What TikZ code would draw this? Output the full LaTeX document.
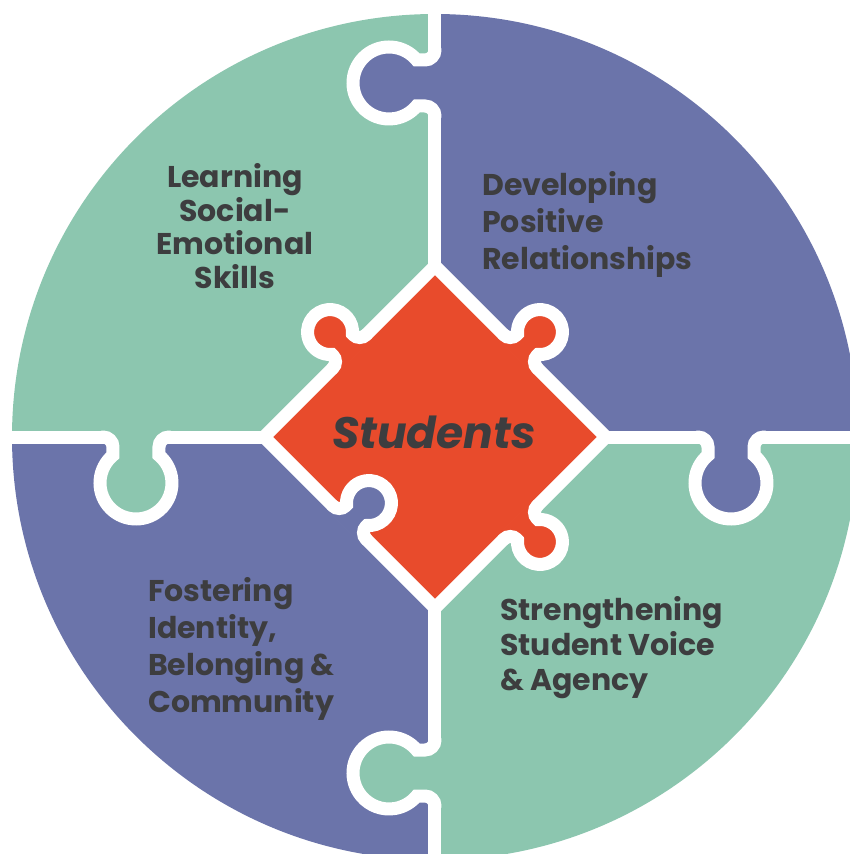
\documentclass[tikz,border=0pt]{standalone}
\usepackage{fontspec}
\setmainfont{Poppins}
\begin{document}
\begin{tikzpicture}[x=1pt,y=1pt]
%Define all colors here.
\definecolor{tgreen}{RGB}{140,198,175}
\definecolor{tpurple}{RGB}{107,116,170}
\definecolor{tred}{RGB}{232,75,44}
\definecolor{ttext}{RGB}{61,61,63}
\tikzset{
  seam/.style={draw=white, line width=13pt, line cap=round},
  areatext/.style={text=ttext, inner sep=0pt, font=\bfseries\fontsize{30}{37}\selectfont},
  % puzzle tab: colour, knob distance, knob radius, neck half-width, fillet
  pics/tab/.style n args={5}{code={
    \pgfmathsetmacro\tabn{sqrt((#3)*(#3)-(#4)*(#4))}
    \pgfmathsetmacro\tabx{\tabn-#2}
    \pgfmathsetmacro\taba{atan2(#4,\tabn)}
    \pgfmathsetmacro\tabt{#4+#5}
    \pgfmathsetmacro\tabc{#4+0.45*#5}
    \pgfmathsetmacro\tabd{-0.45*#5}
    \fill[#1] (7,\tabt) -- (0,\tabt) .. controls (0,\tabc) and (\tabd,#4) .. (-#5,#4) -- (\tabx,#4)
      arc[start angle=\taba, end angle={360-\taba}, radius=#3]
      -- (-#5,-#4) .. controls (\tabd,-#4) and (0,-\tabc) .. (0,-\tabt) -- (7,-\tabt) -- cycle;
    \draw[seam] (0,\tabt) .. controls (0,\tabc) and (\tabd,#4) .. (-#5,#4) -- (\tabx,#4)
      arc[start angle=\taba, end angle={360-\taba}, radius=#3]
      -- (-#5,-#4) .. controls (\tabd,-#4) and (0,-\tabc) .. (0,-\tabt);
  }}
}
\useasboundingbox (-435,-417) rectangle (414,437);

%Quarters of the disc.
\fill[tgreen] (0,0) -- (0,423) arc[start angle=90, end angle=180, radius=423] -- cycle;
\fill[tpurple] (0,0) -- (423,0) arc[start angle=0, end angle=90, radius=423] -- cycle;
\fill[tpurple] (0,0) -- (-423,0) arc[start angle=180, end angle=270, radius=423] -- cycle;
\fill[tgreen] (0,0) -- (0,-423) arc[start angle=270, end angle=360, radius=423] -- cycle;

\draw[seam] (0,430) -- (0,-430);
\draw[seam] (-430,0) -- (430,0);

\pic at (0,354) {tab={tpurple}{46}{36}{23}{10}};
\pic at (0,-336) {tab={tgreen}{46}{36}{23}{10}};
\pic[rotate=90] at (296,0) {tab={tpurple}{46}{36}{23}{10}};
\pic[rotate=90] at (-299,0) {tab={tgreen}{46}{36}{23}{10}};

%Centre piece.
\fill[tred] (0,171) -- (171,0) -- (0,-171) -- (-171,0) -- cycle;
\draw[seam] (0,171) -- (171,0) -- (0,-171) -- (-171,0) -- cycle;
\pic[rotate=-45] at (-85.5,85.5) {tab={tred}{27.5}{22.5}{14.5}{9}};
\pic[rotate=-135] at (85.5,85.5) {tab={tred}{27.5}{22.5}{14.5}{9}};
\pic[rotate=135] at (85.5,-85.5) {tab={tred}{27.5}{22.5}{14.5}{9}};
\pic[rotate=-135] at (-85.5,-85.5) {tab={tpurple}{27.5}{22.5}{14.5}{9}};

\node[text=ttext, font=\bfseries\itshape\fontsize{44}{50}\selectfont] (students) at (-1,5) {Students};

\node[areatext, align=center, font=\bfseries\fontsize{30}{33.5}\selectfont] (sel) at (-200,211) {Learning\\Social-\\Emotional\\Skills};
\node[areatext, align=left, anchor=west] (rel) at (47,213) {Developing\\Positive\\Relationships};
\node[areatext, align=left, anchor=west] (ident) at (-287,-212) {Fostering\\Identity,\\Belonging \&\\Community};
\node[areatext, align=left, anchor=west, font=\bfseries\fontsize{30}{35}\selectfont] (voice) at (65,-211) {Strengthening\\Student Voice\\\& Agency};
\end{tikzpicture}
\end{document}
